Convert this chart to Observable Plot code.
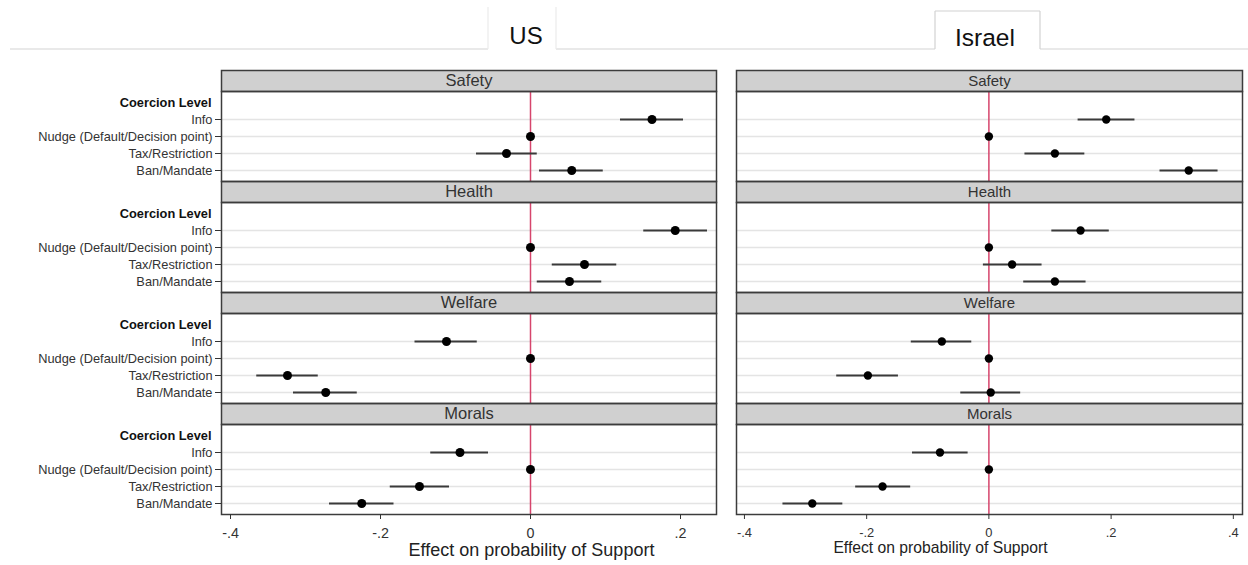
<!DOCTYPE html>
<html><head><meta charset="utf-8">
<script src="https://cdn.jsdelivr.net/npm/d3@7"></script>
<script src="https://cdn.jsdelivr.net/npm/@observablehq/plot@0.6"></script>
<style>
body{margin:0;background:#fff;font-family:"Liberation Sans",Arial,sans-serif;}
#wrap{position:relative;width:1248px;height:565px;overflow:hidden;background:#fff;}
#wrap > svg{position:absolute;top:0;}
</style></head><body><div id="wrap"></div>
<script>
// ---- data ----
const countries = ["US", "Israel"];
const domains = ["Safety", "Health", "Welfare", "Morals"];
const levels = ["Info", "Nudge (Default/Decision point)", "Tax/Restriction", "Ban/Mandate"];
const groupHeader = "Coercion Level";
const xTicksUS = [-0.4, -0.2, 0, 0.2];
const xTicksIL = [-0.4, -0.2, 0, 0.2, 0.4];
const xTitle = "Effect on probability of Support";

// rows = domains, columns = levels (Nudge is the reference level, no CI)
const usEst = [[0.162, 0, -0.032, 0.055], [0.193, 0, 0.072, 0.052], [-0.112, 0, -0.324, -0.273], [-0.094, 0, -0.148, -0.225]];
const usLo  = [[0.120, null, -0.072, 0.012], [0.151, null, 0.029, 0.009], [-0.154, null, -0.365, -0.316], [-0.133, null, -0.187, -0.268]];
const usHi  = [[0.204, null, 0.009, 0.097], [0.236, null, 0.115, 0.095], [-0.071, null, -0.283, -0.231], [-0.056, null, -0.108, -0.182]];

const ilEst = [[0.192, 0, 0.108, 0.327], [0.150, 0, 0.038, 0.108], [-0.077, 0, -0.198, 0.003], [-0.080, 0, -0.174, -0.289]];
const ilLo  = [[0.146, null, 0.059, 0.280], [0.103, null, -0.009, 0.057], [-0.127, null, -0.249, -0.046], [-0.125, null, -0.218, -0.337]];
const ilHi  = [[0.239, null, 0.157, 0.375], [0.197, null, 0.087, 0.159], [-0.028, null, -0.148, 0.052], [-0.034, null, -0.128, -0.239]];

function makeRows(est, lo, hi) {
  const rows = [];
  domains.forEach((dom, i) => levels.forEach((lev, j) => {
    rows.push({domain: dom, level: lev, est: est[i][j], lo: lo[i][j], hi: hi[i][j]});
  }));
  return rows;
}
const fmt = d => d === 0 ? "0" : (d < 0 ? "-" : "") + Math.abs(d).toFixed(1).replace(/^0/, "");

const H = 565, MT = 70, MB = 51, STRIP = 21;
const facetH = (H - MT - MB) / domains.length;
const FONT = "'Liberation Sans', Arial, sans-serif";

function panel({rows, width, marginLeft, marginRight, xDomain, ticks, showY, stripSize, tickFont, r}) {
  const marks = [
    Plot.ruleY(levels, {y: d => d, stroke: "#e4e4e4", strokeWidth: 1.5}),
    Plot.ruleX([0], {stroke: "#d6456c", strokeWidth: 1.5}),
    Plot.ruleY(rows.filter(d => d.lo != null), {fy: "domain", y: "level", x1: "lo", x2: "hi", stroke: "#3a3a3a", strokeWidth: 2}),
    Plot.dot(rows, {fy: "domain", y: "level", x: "est", r, fill: "#000", stroke: "none"}),
    Plot.frame({fill: "#d0d0d0", insetBottom: facetH - STRIP}),
    Plot.frame({stroke: "#3c3c3c", strokeWidth: 1.5, insetBottom: facetH - STRIP}),
    Plot.frame({stroke: "#3c3c3c", strokeWidth: 1.5, insetTop: STRIP}),
    Plot.text(domains, {fy: d => d, text: d => d, frameAnchor: "top", lineAnchor: "middle", dy: STRIP / 2, fontSize: stripSize, fill: "#333"}),
    Plot.axisX({ticks, tickFormat: fmt, tickSize: 5, tickPadding: 8, fontSize: tickFont, label: null, stroke: "#333", fill: "#333"})
  ];
  if (showY) {
    marks.push(
      Plot.axisY({ticks: levels, tickSize: 6, tickPadding: 3, label: null, fontSize: 12.8, stroke: "#333", fill: "#333"}),
      Plot.text([groupHeader], {y: d => d, frameAnchor: "left", textAnchor: "end", dx: -10, fontWeight: "bold", fontSize: 12.8, fill: "#111"})
    );
  }
  return Plot.plot({
    width, height: H, marginTop: MT, marginBottom: MB, marginLeft, marginRight,
    style: {fontFamily: FONT, fontSize: "12.8px", color: "#333", background: "transparent"},
    x: {domain: xDomain},
    y: {type: "point", domain: [groupHeader, ...levels], padding: 0.5, insetTop: STRIP, insetBottom: 1, axis: null},
    fy: {domain: domains, padding: 0, axis: null},
    marks
  });
}

const wrap = document.getElementById("wrap");
const left = panel({rows: makeRows(usEst, usLo, usHi), width: 725, marginLeft: 221, marginRight: 9,
  xDomain: [-0.412, 0.248], ticks: xTicksUS, showY: true, stripSize: 16.5, tickFont: 14.3, r: 4.5});
left.style.left = "0px";
wrap.appendChild(left);
const right = panel({rows: makeRows(ilEst, ilLo, ilHi), width: 523, marginLeft: 11, marginRight: 6,
  xDomain: [-0.413, 0.415], ticks: xTicksIL, showY: false, stripSize: 15, tickFont: 12.9, r: 4.2});
right.style.left = "725px";
wrap.appendChild(right);

// ---- header tabs & axis titles overlay ----
const ov = d3.select(wrap).append("svg").attr("width", 1248).attr("height", H)
  .style("left", "0px").style("pointer-events", "none").style("font-family", FONT);
const seg = (x1, y1, x2, y2, c) => ov.append("line").attr("x1", x1).attr("y1", y1).attr("x2", x2).attr("y2", y2)
  .attr("stroke", c).attr("stroke-width", 1.2);
seg(10, 49, 488, 49, "#d4d4d4");
seg(556, 49, 935, 49, "#d4d4d4");
seg(1040, 49, 1248, 49, "#d4d4d4");
seg(488, 7, 488, 49, "#ebebeb");
seg(556, 7, 556, 49, "#ebebeb");
seg(935, 11, 935, 49, "#d2d2d2");
seg(935, 11, 1040, 11, "#d2d2d2");
seg(1040, 11, 1040, 49, "#d2d2d2");
ov.append("text").attr("x", 526).attr("y", 44).attr("text-anchor", "middle").attr("font-size", 24).attr("fill", "#111").text(countries[0]);
ov.append("text").attr("x", 985).attr("y", 46).attr("text-anchor", "middle").attr("font-size", 24.5).attr("fill", "#111").text(countries[1]);
ov.append("text").attr("x", 531.5).attr("y", 556).attr("text-anchor", "middle").attr("font-size", 18).attr("fill", "#222").text(xTitle);
ov.append("text").attr("x", 940.5).attr("y", 553).attr("text-anchor", "middle").attr("font-size", 15.7).attr("fill", "#222").text(xTitle);
</script></body></html>
